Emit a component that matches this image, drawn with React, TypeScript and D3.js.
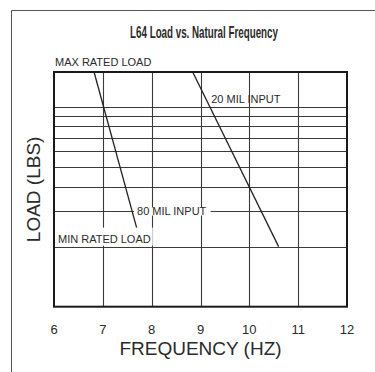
import { useEffect, useRef } from "react";
import * as d3 from "d3";

// frequency (Hz) on x, load (lbs) on a log y axis
const xTicks = [6, 7, 8, 9, 10, 11, 12];
const loadGrid = [2, 3, 4, 5, 6, 7, 8, 9, 10];
const mil20 = [
  { freq: 8.84, load: 15 },
  { freq: 10.6, load: 2.0 },
];
const mil80 = [
  { freq: 6.82, load: 15 },
  { freq: 7.71, load: 2.4 },
];

const App = () => {
  const chartRef = useRef<HTMLDivElement>(null);

  useEffect(() => {
    const W = 375;
    const H = 372;
    const svg = d3
      .select(chartRef.current)
      .append("svg")
      .attr("width", W)
      .attr("height", H)
      .style("display", "block");

    const margin = { top: 72, right: 28, bottom: 65.3, left: 54 };
    const width = W - margin.left - margin.right;
    const height = H - margin.top - margin.bottom;
    const ink = "#2a2a2a";
    const sans = "Liberation Sans, Arial, sans-serif";

    svg.append("rect").attr("width", W).attr("height", H).attr("fill", "#fff");

    // outer frame (only left and top show)
    svg
      .append("path")
      .attr("d", `M11.5,${H} V10.5 H${W}`)
      .attr("fill", "none")
      .attr("stroke", "#555")
      .attr("stroke-width", 1);

    // condensed-looking title: squeeze a bold sans horizontally
    const title = svg
      .append("text")
      .attr("text-anchor", "middle")
      .style("font-family", sans)
      .style("font-weight", "bold")
      .style("font-size", "16px")
      .style("fill", ink)
      .text("L64 Load vs. Natural Frequency");
    const tw = (title.node() as SVGTextElement).getComputedTextLength();
    title.attr("transform", `translate(204,38) scale(${148 / tw},1)`);

    const x = d3.scaleLinear().domain([6, 12]).range([0, width]);
    const y = d3.scaleLog().domain([1, 15]).range([height, 0]);

    const g = svg
      .append("g")
      .attr("transform", `translate(${margin.left},${margin.top})`);

    // grid
    g.selectAll(".hgrid")
      .data(loadGrid)
      .enter()
      .append("line")
      .attr("x1", 0)
      .attr("x2", width)
      .attr("y1", (d) => Math.round(y(d)) + 0.5)
      .attr("y2", (d) => Math.round(y(d)) + 0.5)
      .attr("stroke", "#3a3a3a")
      .attr("stroke-width", 1.1);

    g.selectAll(".vgrid")
      .data(xTicks.slice(1, -1))
      .enter()
      .append("line")
      .attr("x1", (d) => Math.round(x(d)) + 0.5)
      .attr("x2", (d) => Math.round(x(d)) + 0.5)
      .attr("y1", 0)
      .attr("y2", height)
      .attr("stroke", "#3a3a3a")
      .attr("stroke-width", 1.1);

    const line = d3
      .line<{ freq: number; load: number }>()
      .x((d) => x(d.freq))
      .y((d) => y(d.load));

    [mil20, mil80].forEach((s) => {
      g.append("path")
        .datum(s)
        .attr("d", line)
        .attr("fill", "none")
        .attr("stroke", "#222")
        .attr("stroke-width", 1.3);
    });

    // labels, some with a white box knocking out the grid
    const label = (txt: string, lx: number, ly: number, pad: number[] | null) => {
      const t = g
        .append("text")
        .attr("x", lx)
        .attr("y", ly)
        .style("font-family", sans)
        .style("font-size", "11px")
        .style("fill", ink)
        .text(txt);
      if (pad) {
        const b = (t.node() as SVGTextElement).getBBox();
        g.insert("rect", () => t.node())
          .attr("x", b.x - pad[0])
          .attr("y", b.y - pad[1])
          .attr("width", b.width + pad[0] + pad[2])
          .attr("height", b.height + pad[1] + pad[3])
          .attr("fill", "#fff");
      }
    };

    label("MAX RATED LOAD", 1, -6, null);
    label("20 MIL INPUT", x(9.22), y(10) - 4, null);
    label("80 MIL INPUT", x(7.7), y(3) + 4, [3, -2, 4, -2]);
    label("MIN RATED LOAD", 4, y(2) - 4, [3, 5, 2, 1]);

    // plot border
    g.append("rect")
      .attr("x", 0)
      .attr("y", 0)
      .attr("width", width)
      .attr("height", height)
      .attr("fill", "none")
      .attr("stroke", "#1a1a1a")
      .attr("stroke-width", 2);

    g.selectAll(".xlab")
      .data(xTicks)
      .enter()
      .append("text")
      .attr("x", (d) => x(d))
      .attr("y", height + 27)
      .attr("text-anchor", "middle")
      .style("font-family", sans)
      .style("font-size", "13px")
      .style("fill", ink)
      .text((d) => d);

    svg
      .append("text")
      .attr("x", margin.left + width / 2)
      .attr("y", 355)
      .attr("text-anchor", "middle")
      .style("font-family", sans)
      .style("font-size", "19px")
      .style("fill", ink)
      .text("FREQUENCY (HZ)");

    svg
      .append("text")
      .attr("transform", `translate(40,${margin.top + height / 2}) rotate(-90)`)
      .attr("text-anchor", "middle")
      .style("font-family", sans)
      .style("font-size", "19px")
      .style("fill", ink)
      .text("LOAD (LBS)");

    return () => {
      svg.remove();
    };
  }, []);

  return <div ref={chartRef} style={{ position: "absolute", left: 0, top: 0 }}></div>;
};

export default App;
